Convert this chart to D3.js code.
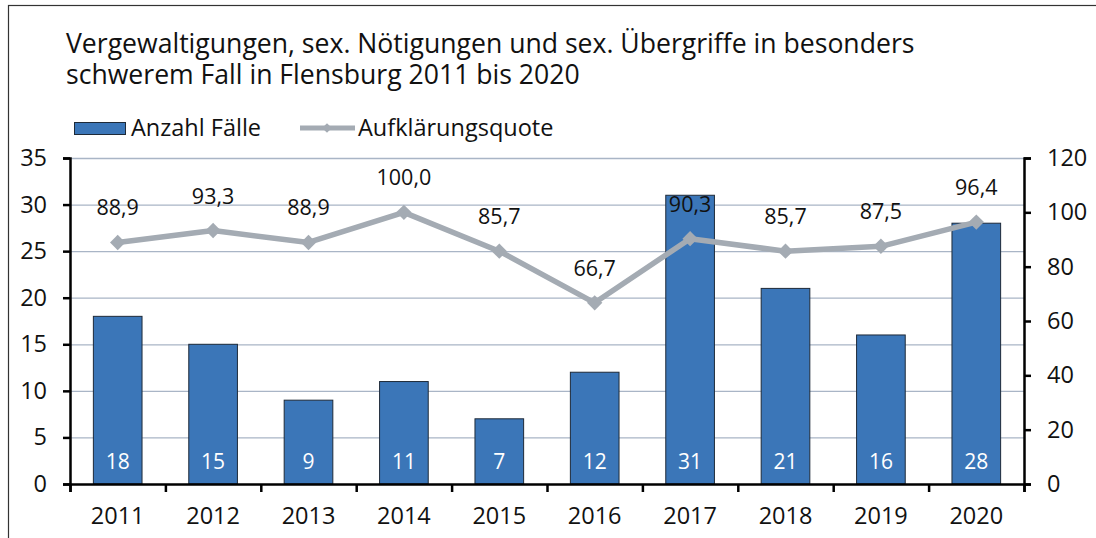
<!DOCTYPE html>
<html>
<head>
<meta charset="utf-8">
<script src="https://cdn.jsdelivr.net/npm/d3@7"></script>
<style>
  body { margin: 0; background: #fff; }
  svg { display: block; font-family: "Open Sans", Lato, sans-serif; }
</style>
</head>
<body>
<div id="chart"></div>
<script>
const years = ['2011', '2012', '2013', '2014', '2015', '2016', '2017', '2018', '2019', '2020'];
const cases = [18, 15, 9, 11, 7, 12, 31, 21, 16, 28];
const clearance = [88.9, 93.3, 88.9, 100.0, 85.7, 66.7, 90.3, 85.7, 87.5, 96.4];
const leftTicks = [0, 5, 10, 15, 20, 25, 30, 35];
const rightTicks = [0, 20, 40, 60, 80, 100, 120];
const titleLines = ['Vergewaltigungen, sex. Nötigungen und sex. Übergriffe in besonders',
                    'schwerem Fall in Flensburg 2011 bis 2020'];

const W = 1096, H = 538;
const plot = {left: 70, right: 1024, top: 158, bottom: 484};
const ink = '#111';

const svg = d3.select('#chart').append('svg')
    .attr('width', W).attr('height', H);

// frame
svg.append('rect')
    .attr('x', 8.5).attr('y', 5.5)
    .attr('width', 1100).attr('height', 600)
    .attr('fill', 'none').attr('stroke', '#333').attr('stroke-width', 1.2);

// title
svg.append('g').selectAll('text')
    .data(titleLines)
    .join('text')
    .attr('x', 66)
    .attr('y', (d, i) => 53 + i * 31)
    .attr('font-size', 26.6)
    .attr('fill', ink)
    .text(d => d);

const x = d3.scaleBand().domain(years).range([plot.left, plot.right]).paddingInner(0.49).paddingOuter(0.245);
const xEdge = d3.scaleLinear().domain([0, years.length]).range([plot.left, plot.right]);
const yL = d3.scaleLinear().domain([0, 35]).range([plot.bottom, plot.top]);
const yR = d3.scaleLinear().domain([0, 120]).range([plot.bottom, plot.top]);

// gridlines
svg.append('g').selectAll('line')
    .data(leftTicks.filter(d => d > 0))
    .join('line')
    .attr('x1', plot.left).attr('x2', plot.right)
    .attr('y1', d => yL(d) + 0.5).attr('y2', d => yL(d) + 0.5)
    .attr('stroke', '#a9b5c6').attr('stroke-width', 1.3);

// bars
svg.append('g').selectAll('rect')
    .data(cases)
    .join('rect')
    .attr('x', (d, i) => x(years[i]))
    .attr('y', d => yL(d))
    .attr('width', x.bandwidth())
    .attr('height', d => yL(0) - yL(d))
    .attr('fill', '#3b76b8')
    .attr('stroke', '#1e2a38').attr('stroke-width', 1);

// bar labels
svg.append('g').selectAll('text')
    .data(cases)
    .join('text')
    .attr('x', (d, i) => x(years[i]) + x.bandwidth() / 2)
    .attr('y', 469)
    .attr('text-anchor', 'middle')
    .attr('font-size', 21)
    .attr('fill', '#fff')
    .text(d => d);

// line
const cx = (d, i) => x(years[i]) + x.bandwidth() / 2;
svg.append('path')
    .datum(clearance)
    .attr('d', d3.line().x(cx).y(d => yR(d)))
    .attr('fill', 'none')
    .attr('stroke', '#a4abb3').attr('stroke-width', 5.5)
    .attr('stroke-linejoin', 'round');

svg.append('g').selectAll('path')
    .data(clearance)
    .join('path')
    .attr('d', d3.symbol().type(d3.symbolDiamond2).size(150))
    .attr('transform', (d, i) => `translate(${cx(d, i)},${yR(d)})`)
    .attr('fill', '#a4abb3');

// line labels (white where they sit on a bar)
svg.append('g').selectAll('text')
    .data(clearance)
    .join('text')
    .attr('x', cx)
    .attr('y', d => yR(d) - 27)
    .attr('text-anchor', 'middle')
    .attr('font-size', 21.5)
    .attr('fill', (d, i) => yL(cases[i]) < yR(d) - 45 ? '#fff' : ink)
    .text(d => d.toFixed(1).replace('.', ','));

// axes
const axL = svg.append('g')
    .attr('transform', `translate(${plot.left},0)`)
    .call(d3.axisLeft(yL).tickValues(leftTicks).tickSize(7).tickPadding(16));
const axR = svg.append('g')
    .attr('transform', `translate(${plot.right},0)`)
    .call(d3.axisRight(yR).tickValues(rightTicks).tickSize(7).tickPadding(16));
const axB = svg.append('g')
    .attr('transform', `translate(0,${plot.bottom})`)
    .call(d3.axisBottom(xEdge).tickValues(d3.range(years.length + 1)).tickSize(8).tickFormat(''));

[axL, axR, axB].forEach(a => {
  a.select('.domain').attr('stroke', '#000').attr('stroke-width', 2.5);
  a.selectAll('.tick line').attr('stroke', '#000').attr('stroke-width', 2.5);
  a.selectAll('text').attr('font-size', 23.5).attr('fill', ink).attr('font-family', '"Open Sans", sans-serif');
});

// x labels
svg.append('g').selectAll('text')
    .data(years)
    .join('text')
    .attr('x', d => x(d) + x.bandwidth() / 2)
    .attr('y', 524)
    .attr('text-anchor', 'middle')
    .attr('font-size', 23.5)
    .attr('fill', ink)
    .text(d => d);

// legend
const lg = svg.append('g');
lg.append('rect')
    .attr('x', 74.5).attr('y', 122.5).attr('width', 51).attr('height', 12)
    .attr('fill', '#3b76b8').attr('stroke', '#1e2a38');
lg.append('text').attr('x', 131).attr('y', 136).attr('font-size', 23.5).attr('fill', ink).text('Anzahl Fälle');
lg.append('line')
    .attr('x1', 300).attr('x2', 355).attr('y1', 128).attr('y2', 128)
    .attr('stroke', '#a4abb3').attr('stroke-width', 5);
lg.append('path')
    .attr('d', d3.symbol().type(d3.symbolDiamond2).size(60))
    .attr('transform', 'translate(327,128)')
    .attr('fill', '#a4abb3');
lg.append('text').attr('x', 358).attr('y', 136).attr('font-size', 23.5).attr('fill', ink).text('Aufklärungsquote');
</script>
</body>
</html>
